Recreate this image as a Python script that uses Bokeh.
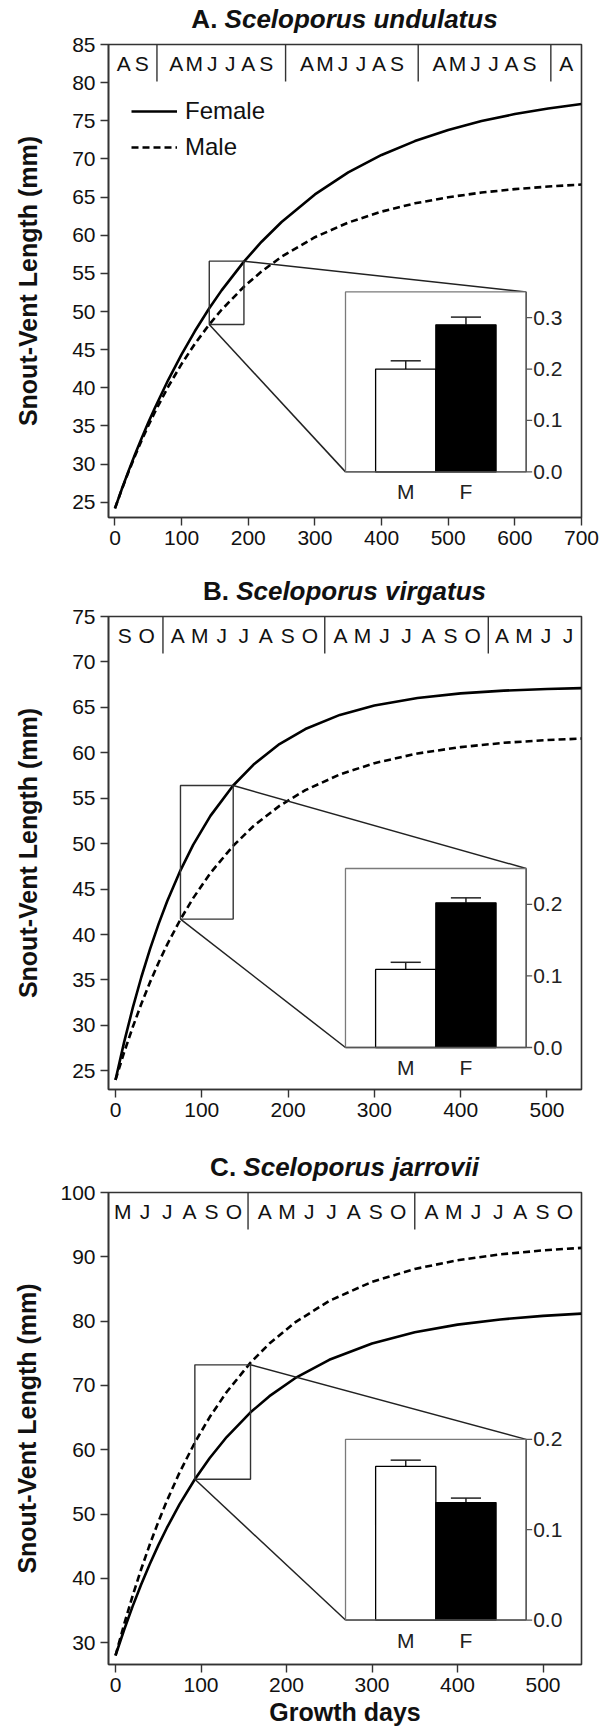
from bokeh.plotting import figure
from bokeh.layouts import column
from bokeh.models import Range1d, FixedTicker, Legend, LegendItem, Div
from bokeh.core.properties import value
from bokeh.embed import file_html
from bokeh.resources import INLINE

FONT = "Liberation Sans"

# ---------------- data ----------------
# Panel A  (Sceloporus undulatus)
A_days = [0, 10, 20, 30, 40, 50, 60, 80, 100, 120, 141.5, 160, 193.5, 220, 250,
          300, 350, 400, 450, 500, 550, 600, 650, 700]
A_female = [24.2, 26.66, 29.01, 31.25, 33.39, 35.44, 37.39, 41.05, 44.39, 47.44, 50.43,
            52.77, 56.54, 59.15, 61.74, 65.35, 68.23, 70.52, 72.34, 73.80, 74.96,
            75.88, 76.61, 77.20]
A_male = [24.2, 26.62, 28.90, 31.06, 33.10, 35.02, 36.84, 40.17, 43.13, 45.78, 48.30,
          50.23, 53.25, 55.25, 57.18, 59.74, 61.66, 63.10, 64.18, 64.98, 65.59,
          66.04, 66.38, 66.64]
A_box = [141.5, 193.5, 48.3, 56.6]          # zoom window: day0, day1, svl0, svl1
A_bar_values = [0.200, 0.286]               # M, F
A_bar_errors = [0.016, 0.015]
A_inset_ticks = [0.0, 0.1, 0.2, 0.3]
A_month_breaks = [63, 256, 455, 654]
A_month_groups = ["AS", "AMJJAS", "AMJJAS", "AMJJAS", "A"]
A_xticks = [0, 100, 200, 300, 400, 500, 600, 700]
A_yticks = [25, 30, 35, 40, 45, 50, 55, 60, 65, 70, 75, 80, 85]

# Panel B  (Sceloporus virgatus)
B_days = [0, 10, 20, 30, 40, 50, 60, 75.3, 90, 110, 136.4, 160, 190, 220, 260,
          300, 350, 400, 450, 500, 540]
B_female = [24.0, 28.16, 31.93, 35.33, 38.40, 41.18, 43.69, 47.07, 49.87, 53.06, 56.40,
            58.71, 60.96, 62.62, 64.17, 65.21, 66.04, 66.54, 66.84, 67.02, 67.12]
B_male = [24.0, 27.03, 29.82, 32.38, 34.75, 36.92, 38.92, 41.67, 44.01, 46.77, 49.77,
          51.95, 54.16, 55.89, 57.62, 58.86, 59.93, 60.63, 61.10, 61.40, 61.57]
B_box = [75.3, 136.4, 41.7, 56.4]
B_bar_values = [0.109, 0.202]
B_bar_errors = [0.010, 0.007]
B_inset_ticks = [0.0, 0.1, 0.2]
B_month_breaks = [55, 242.5, 432]
B_month_groups = ["SO", "AMJJASO", "AMJJASO", "AMJJ"]
B_xticks = [0, 100, 200, 300, 400, 500]
B_yticks = [25, 30, 35, 40, 45, 50, 55, 60, 65, 70, 75]

# Panel C  (Sceloporus jarrovii)
C_days = [0, 10, 20, 30, 40, 50, 60, 75, 92.8, 110, 130, 157.9, 180, 210, 250,
          300, 350, 400, 450, 500, 545]
C_female = [28.0, 31.97, 35.64, 39.05, 42.20, 45.13, 47.83, 51.53, 55.40, 58.67, 61.97,
            65.81, 68.33, 71.12, 73.98, 76.52, 78.26, 79.45, 80.26, 80.81, 81.16]
C_male = [28.0, 32.82, 37.28, 41.41, 45.23, 48.76, 52.03, 56.48, 61.12, 65.04, 68.97,
          73.54, 76.51, 79.80, 83.15, 86.11, 88.11, 89.46, 90.38, 91.00, 91.39]
C_box = [92.8, 157.9, 55.4, 73.2]
C_bar_values = [0.170, 0.130]
C_bar_errors = [0.007, 0.005]
C_inset_ticks = [0.0, 0.1, 0.2]
C_month_breaks = [155, 350]
C_month_groups = ["MJJASO", "AMJJASO", "AMJJASO"]
C_xticks = [0, 100, 200, 300, 400, 500]
C_yticks = [30, 40, 50, 60, 70, 80, 90, 100]

bar_categories = ["M", "F"]
series_names = ["Female", "Male"]

FIG_W = 600
BORDER_L = 108
BORDER_R = 19
BORDER_T = 12
TITLE_H = 32


def title_div(letter, species):
    html = (f'<div style="width:{FIG_W - BORDER_L - BORDER_R}px;margin-left:{BORDER_L}px;'
            'padding-top:6px;text-align:center;overflow:visible;'
            "font-family:'Liberation Sans',Arial,sans-serif;font-size:26px;font-weight:bold;"
            'line-height:26px;color:#111111;white-space:nowrap;">'
            f'{letter} <i>{species}</i></div>')
    return Div(text=html, width=FIG_W, height=TITLE_H, margin=(0, 0, 0, 0))


def make_panel(days, female, male, box, bar_values, bar_errors,
               inset_ticks, inset_top, breaks, groups, month_step, xticks, yticks,
               xr, yr, inset_x, inset_y, frame_h, b_bottom,
               ylab_standoff, xlabel=None, legend_loc=None):
    p = figure(width=FIG_W, height=BORDER_T + frame_h + b_bottom,
               x_range=Range1d(*xr), y_range=Range1d(*yr),
               output_backend="svg", toolbar_location=None,
               min_border_left=BORDER_L, min_border_right=BORDER_R,
               min_border_top=BORDER_T, min_border_bottom=b_bottom)
    p.grid.visible = False
    p.background_fill_color = "white"
    p.border_fill_color = "white"
    p.border_fill_alpha = 0
    p.outline_line_color = "#333333"
    p.outline_line_width = 1.6

    for ax in (p.xaxis[0], p.yaxis[0]):
        ax.axis_line_color = "#333333"
        ax.axis_line_width = 1.6
        ax.major_tick_line_color = "#333333"
        ax.major_tick_line_width = 1.4
        ax.major_tick_out = 8
        ax.major_tick_in = 0
        ax.minor_tick_line_color = None
        ax.major_label_text_font = FONT
        ax.major_label_text_font_size = "21px"
        ax.major_label_text_color = "#111111"
        ax.major_label_standoff = 5
        ax.axis_label_text_font = FONT
        ax.axis_label_text_font_size = "25px"
        ax.axis_label_text_font_style = "bold"
        ax.axis_label_text_color = "#111111"
    p.xaxis.ticker = FixedTicker(ticks=xticks)
    p.yaxis.ticker = FixedTicker(ticks=yticks)
    p.yaxis.axis_label = "Snout-Vent Length (mm)"
    p.yaxis.axis_label_standoff = ylab_standoff
    if xlabel:
        p.xaxis.axis_label = xlabel
        p.xaxis.axis_label_standoff = 3
        p.xaxis.major_label_standoff = 5

    # month strip
    p.ray(x=breaks, y=[yr[1]] * len(breaks), length=37, length_units="screen",
          angle=-90, angle_units="deg", line_color="#333333", line_width=1.4)
    bounds = [xr[0]] + list(breaks) + [xr[1]]
    mx, mt = [], []
    for i, grp in enumerate(groups):
        mid = (bounds[i] + bounds[i + 1]) / 2
        n = len(grp)
        for j, ch in enumerate(grp):
            mx.append(mid + (j - (n - 1) / 2) * month_step)
            mt.append(ch)
    p.text(x=mx, y=[yr[1]] * len(mx), text=mt, y_offset=19, text_align="center",
           text_baseline="middle", text_font=value(FONT), text_font_size="21px",
           text_color="#111111")

    # growth curves
    rf = p.line(days, female, line_color="black", line_width=2.6)
    rm = p.line(days, male, line_color="black", line_width=2.6, line_dash="7 4")

    # zoom box and connectors
    p.quad(left=[box[0]], right=[box[1]], bottom=[box[2]], top=[box[3]],
           fill_color=None, line_color="#333333", line_width=1.4)
    p.segment(x0=[box[0], box[1]], y0=[box[2], box[3]],
              x1=[inset_x[0], inset_x[1]], y1=[inset_y[0], inset_y[1]],
              line_color="#222222", line_width=1.5)

    # inset bar chart
    sub = p.subplot(x_source=Range1d(0, 3), y_source=Range1d(0, inset_top),
                    x_target=Range1d(*inset_x), y_target=Range1d(*inset_y))
    sub.quad(left=[0], right=[3], bottom=[0], top=[inset_top], fill_color="white",
             line_color="#7a7a7a", line_width=1.3)
    xs = [1, 2]
    tops = [v + e for v, e in zip(bar_values, bar_errors)]
    sub.segment(x0=xs, y0=bar_values, x1=xs, y1=tops, line_color="#222222", line_width=1.5)
    sub.segment(x0=[x - 0.25 for x in xs], y0=tops, x1=[x + 0.25 for x in xs], y1=tops,
                line_color="#222222", line_width=1.5)
    sub.vbar(x=xs, top=bar_values, bottom=0, width=1.0, fill_color=["white", "black"],
             line_color="black", line_width=1.3)
    sub.segment(x0=[3], y0=[0], x1=[3], y1=[inset_top], line_color="#555555", line_width=1.4)
    sub.segment(x0=[0], y0=[0], x1=[3], y1=[0], line_color="#555555", line_width=1.4)
    sub.ray(x=[3] * len(inset_ticks), y=inset_ticks, length=6, length_units="screen",
            angle=0, line_color="#555555", line_width=1.3)
    sub.text(x=[3] * len(inset_ticks), y=inset_ticks, text=[f"{t:.1f}" for t in inset_ticks],
             x_offset=7, text_align="left", text_baseline="middle",
             text_font=value(FONT), text_font_size="21px", text_color="#222222")
    sub.text(x=xs, y=[0, 0], text=bar_categories, y_offset=20, text_align="center",
             text_baseline="middle", text_font=value(FONT), text_font_size="21px",
             text_color="#222222")

    if legend_loc is not None:
        lg = Legend(items=[LegendItem(label=series_names[0], renderers=[rf]),
                           LegendItem(label=series_names[1], renderers=[rm])],
                    location=legend_loc)
        lg.padding = 0
        lg.margin = 0
        lg.spacing = 4
        lg.glyph_width = 46
        lg.glyph_height = 32
        lg.label_height = 32
        lg.label_standoff = 8
        lg.label_text_font = FONT
        lg.label_text_font_size = "24px"
        lg.label_text_color = "#111111"
        lg.border_line_alpha = 0
        lg.background_fill_alpha = 0
        p.add_layout(lg)
    return p


tA = title_div("A.", "Sceloporus undulatus")
pA = make_panel(A_days, A_female, A_male, A_box,
                A_bar_values, A_bar_errors, A_inset_ticks, 0.35, A_month_breaks,
                A_month_groups, 27, A_xticks, A_yticks,
                xr=(-9.7, 700), yr=(23.0, 85), inset_x=(345.9, 617.0),
                inset_y=(28.98, 52.57), frame_h=473, b_bottom=55,
                ylab_standoff=27, legend_loc=(23, 354))
tB = title_div("B.", "Sceloporus virgatus")
pB = make_panel(B_days, B_female, B_male, B_box,
                B_bar_values, B_bar_errors, B_inset_ticks, 0.25, B_month_breaks,
                B_month_groups, 25.5, B_xticks, B_yticks,
                xr=(-8.1, 540), yr=(22.95, 75), inset_x=(266.5, 475.9),
                inset_y=(27.57, 47.27), frame_h=473, b_bottom=59,
                ylab_standoff=27)
tC = title_div("C.", "Sceloporus jarrovii")
pC = make_panel(C_days, C_female, C_male, C_box,
                C_bar_values, C_bar_errors, C_inset_ticks, 0.2, C_month_breaks,
                C_month_groups, 26, C_xticks, C_yticks,
                xr=(-8.2, 545), yr=(26.6, 100), inset_x=(269.0, 480.3),
                inset_y=(33.51, 61.61), frame_h=472, b_bottom=69,
                ylab_standoff=16, xlabel="Growth days")

layout = column(tA, pA, tB, pB, tC, pC, spacing=0)
open("out.html", "w").write(file_html(layout, INLINE))
